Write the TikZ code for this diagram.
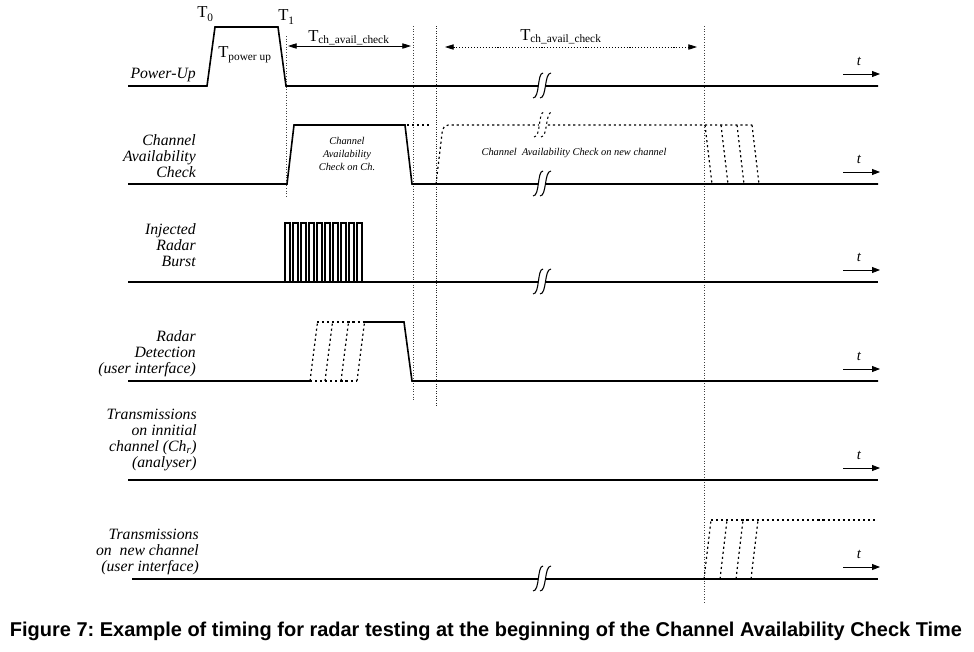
\documentclass[tikz,border=0pt]{standalone}
\usepackage{fontspec}
\setmainfont{Liberation Serif}
\newfontfamily\capfont{Liberation Sans}
\usetikzlibrary{arrows.meta}
\begin{document}
\begin{tikzpicture}[x=0.75pt,y=-0.75pt,
  sig/.style={line width=1.2pt},
  burst/.style={line width=0.9pt},
  dsig/.style={line width=0.9pt, dash pattern=on 1.6pt off 2.2pt},
  vdot/.style={line width=0.45pt, dash pattern=on 0.6pt off 1.4pt, black!75},
  vdotb/.style={line width=0.7pt, dash pattern=on 0.8pt off 1pt, black!85},
  lab/.style={font=\fontsize{11.8}{12}\selectfont\itshape, align=right, anchor=base east, inner sep=0pt},
  small/.style={font=\fontsize{7.8}{9.4}\selectfont\itshape, align=center, anchor=base, inner sep=0pt},
  tlab/.style={font=\fontsize{12.5}{12.5}\selectfont, inner sep=0pt, anchor=base west},
  tarr/.style={line width=0.6pt, -{Triangle[length=6pt,width=4.5pt]}},
  dimarr/.style={line width=0.6pt, {Triangle[length=6.5pt,width=4pt]}-{Triangle[length=6.5pt,width=4pt]}},
  brk/.pic={
    \fill[white] (-4.5,-1.6) rectangle (3.5,1.6);
    \draw[line width=0.8pt, pic actions] (-9,12) .. controls (-2,12) and (-5,-13) .. (1,-13);
    \draw[line width=0.8pt, pic actions] (-2,12) .. controls (5,12) and (2,-13) .. (9,-13);
  }
]
\useasboundingbox (0,0) rectangle (974,651);

% ---------- vertical dotted reference lines ----------
\coordinate (v1t) at (286,36);  \coordinate (v1b) at (286,198);
\coordinate (v2t) at (413,26);  \coordinate (v2b) at (413,400);
\coordinate (v3t) at (436,26);  \coordinate (v3b) at (436,406);
\coordinate (v4t) at (704,26);  \coordinate (v4b) at (704,603);
\draw[vdot] (v1t) -- (v1b);
\draw[vdot] (v2t) -- (v2b);
\draw[vdotb] (v3t) -- (v3b);
\draw[vdot] (v4t) -- (v4b);

% ---------- row 1: Power-Up ----------
\draw[sig] (128,86) -- (207,86) -- (215,27) -- (278,27) -- (286,86) -- (878,86);
\pic at (542,86) {brk};
\node[lab] (l1) at (196,78) {Power-Up};
\node[tlab] (T0) at (197,17) {T\raisebox{-3pt}{\fontsize{8.5}{8.5}\selectfont 0}};
\node[tlab] (T1) at (278,20) {T\raisebox{-3pt}{\fontsize{8.5}{8.5}\selectfont 1}};
\node[tlab] (Tpu) at (218,57) {T\raisebox{-2.5pt}{\fontsize{8.5}{8.5}\selectfont power up}};
\coordinate (a1l) at (288,46); \coordinate (a1r) at (411,46);
\draw[dimarr] (a1l) -- (a1r);
\node[tlab] (Tc1) at (308,41) {T\raisebox{-2pt}{\fontsize{8.5}{8.5}\selectfont ch\_avail\_check}};
\coordinate (a2l) at (445,47); \coordinate (a2r) at (697,47);
\draw[dimarr, dash pattern=on 0.8pt off 1.4pt] (a2l) -- (a2r);
\node[tlab] (Tc2) at (520,40) {T\raisebox{-2pt}{\fontsize{8.5}{8.5}\selectfont ch\_avail\_check}};

% ---------- row 2: Channel Availability Check ----------
\draw[sig] (128,184) -- (287,184) -- (294,125) -- (405,125) -- (412,184) -- (878,184);
\draw[dsig] (407,125) -- (430,125);
\draw[dsig, rounded corners=4pt] (436,184) -- (443,125) -- (752,125);
\foreach \a in {705,721,737,752} \draw[dsig] (\a,125) -- (\a+7,184);
\pic at (542,184) {brk};
\pic[dsig] at (543,125) {brk};
\node[lab] (l2) at (196,177) {Channel\\Availability\\Check};
\node[small] (c2a) at (347,170) {Channel\\Availability\\Check on Ch.};
\node[small] (c2b) at (574,155) {Channel\ \ Availability Check on new channel};

% ---------- row 3: Injected Radar Burst ----------
\draw[sig] (128,282) -- (878,282);
\foreach \i in {0,...,9} \draw[burst] ({285+8*\i},282) -- ++(0,-59) -- ++(5,0) -- ++(0,59);
\pic at (542,282) {brk};
\node[lab] (l3) at (196,266) {Injected\\Radar\\Burst};

% ---------- row 4: Radar Detection ----------
\draw[sig] (128,381) -- (310,381);
\draw[dsig] (310,381) -- (357,381);
\draw[dsig] (317,322) -- (365,322);
\foreach \a in {310,325,341,357} \draw[dsig] (\a,381) -- (\a+7.5,322);
\draw[sig] (365,322) -- (404,322) -- (412,381) -- (878,381);
\node[lab] (l4) at (196,373) {Radar\\Detection\\(user interface)};

% ---------- row 5: Transmissions on initial channel ----------
\draw[sig] (128,480) -- (878,480);
\node[lab] (l5) at (197,467) {Transmissions\\on innitial\\channel (Ch\textsubscript{r})\\(analyser)};

% ---------- row 6: Transmissions on new channel ----------
\draw[sig] (132,579) -- (878,579);
\foreach \a in {704,720,736,751} \draw[dsig] (\a,579) -- (\a+7,520);
\draw[dsig] (711,520) -- (878,520);
\pic at (542,579) {brk};
\node[lab] (l6) at (199,571) {Transmissions\\on\ \ new channel\\(user interface)};

% ---------- time arrows ----------
\foreach \b [count=\i] in {86,184,282,381,480,579} {
  \coordinate (ts\i) at (843,\b-12);
  \coordinate (te\i) at (880,\b-12);
  \draw[tarr] (ts\i) -- (te\i);
  \node[font=\fontsize{11}{11}\selectfont\itshape, inner sep=0pt] (t\i) at (859,\b-25) {t};
}

% ---------- caption ----------
\node[inner sep=0pt] (cap) at (486,631) {\resizebox{714pt}{!}{\capfont\bfseries\fontsize{13}{13}\selectfont\frenchspacing Figure 7: Example of timing for radar testing at the beginning of the Channel Availability Check Time}};
\end{tikzpicture}
\end{document}
